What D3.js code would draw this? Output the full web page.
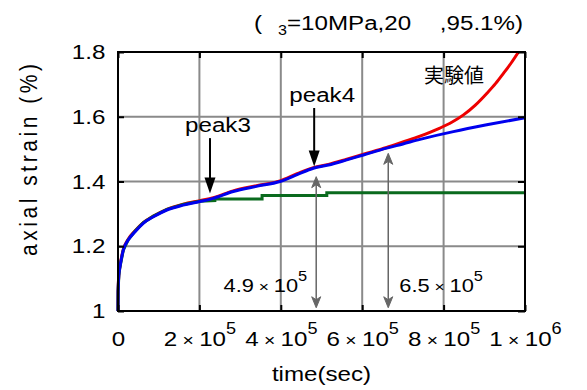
<!DOCTYPE html>
<html>
<head>
<meta charset="utf-8">
<script src="https://cdn.jsdelivr.net/npm/d3@7"></script>
<style>
  body { margin: 0; background: #fff; }
  svg { display: block; font-family: "Liberation Sans", Arial, sans-serif; }
</style>
</head>
<body>
<div id="chart"></div>
<script>
const width = 587;
const height = 390;
const margin = { top: 52, right: 62, bottom: 79, left: 118 };
const stretch = "scale(1.15,1)";

// experimental curve (time in sec, axial strain in %)
const expTime = [0, 300, 2000, 5000, 13000, 25000, 42000, 62000, 87000, 120000, 160000, 201000, 234000, 283000, 340000, 398000, 440000, 480000, 517000, 560000, 603000, 660000, 700000, 742000, 791000, 820000, 848000, 878000, 906000, 928000, 947000, 966000, 984000];
const expStrain = [1.0, 1.06, 1.11, 1.14, 1.19, 1.222, 1.248, 1.273, 1.293, 1.314, 1.33, 1.341, 1.35, 1.371, 1.387, 1.402, 1.424, 1.443, 1.453, 1.468, 1.484, 1.505, 1.522, 1.54, 1.565, 1.583, 1.605, 1.636, 1.672, 1.703, 1.734, 1.766, 1.8];

// blue simulated curve
const modelTime = [0, 300, 2000, 5000, 13000, 25000, 42000, 62000, 87000, 120000, 160000, 201000, 234000, 283000, 340000, 398000, 440000, 480000, 517000, 560000, 603000, 660000, 700000, 742000, 824000, 906000, 1000000];
const modelStrain = [1.0, 1.06, 1.11, 1.137, 1.188, 1.219, 1.245, 1.271, 1.291, 1.312, 1.327, 1.338, 1.348, 1.369, 1.385, 1.4, 1.421, 1.441, 1.451, 1.466, 1.482, 1.503, 1.516, 1.53, 1.554, 1.575, 1.597];

// green curve (stepping off after peak3)
const stopTime = [0, 300, 2000, 5000, 13000, 25000, 42000, 62000, 87000, 120000, 160000, 201000, 238000, 238000, 354000, 354000, 513000, 513000, 1000000];
const stopStrain = [1.0, 1.06, 1.11, 1.137, 1.188, 1.22, 1.247, 1.273, 1.293, 1.314, 1.329, 1.339, 1.341, 1.346, 1.346, 1.357, 1.357, 1.365, 1.365];

const xTicks = [0, 2e5, 4e5, 6e5, 8e5, 1e6];
const yTicks = [1, 1.2, 1.4, 1.6, 1.8];

const peakNames = ["peak3", "peak4"];
const peakTime = [2.26e5, 4.82e5];
const peakFrom = [1.534, 1.627];
const peakTo = [1.363, 1.446];

const spanTime = [4.87e5, 6.64e5];
const spanTop = [1.415, 1.487];
const spanBottom = 1.01;
const spanMantissa = ["4.9", "6.5"];
const spanExp = ["5", "5"];

const x = d3.scaleLinear().domain([0, 1e6]).range([margin.left, width - margin.right]);
const y = d3.scaleLinear().domain([1, 1.8]).range([height - margin.bottom, margin.top]);

const svg = d3.select("#chart").append("svg")
  .attr("width", width)
  .attr("height", height);

svg.append("defs").append("clipPath").attr("id", "plot")
  .append("rect")
  .attr("x", x(0) - 3).attr("y", y(1.8))
  .attr("width", x(1e6) - x(0) + 3).attr("height", y(1) - y(1.8));

// grid
const grid = svg.append("g").attr("stroke", "#8a8a8a").attr("stroke-width", 2);
grid.selectAll("line.v").data(xTicks.slice(1, -1)).join("line")
  .attr("class", "v")
  .attr("x1", d => x(d)).attr("x2", d => x(d))
  .attr("y1", y(1.8)).attr("y2", y(1));
grid.selectAll("line.h").data(yTicks.slice(1, -1)).join("line")
  .attr("class", "h")
  .attr("y1", d => y(d)).attr("y2", d => y(d))
  .attr("x1", x(0)).attr("x2", x(1e6));

// curves
const smooth = d3.line().x(d => x(d[0])).y(d => y(d[1])).curve(d3.curveMonotoneX);
const steps = d3.line().x(d => x(d[0])).y(d => y(d[1]));
const series = [
  { t: expTime, v: expStrain, color: "#ee0000", gen: smooth },
  { t: stopTime, v: stopStrain, color: "#0a6a1e", gen: steps },
  { t: modelTime, v: modelStrain, color: "#0000ee", gen: smooth }
];
svg.append("g").attr("clip-path", "url(#plot)")
  .selectAll("path").data(series).join("path")
  .attr("d", s => s.gen(d3.zip(s.t, s.v)))
  .attr("fill", "none")
  .attr("stroke", s => s.color)
  .attr("stroke-width", 3);

// axes
const fontSize = 21;
const xAxis = svg.append("g")
  .attr("transform", `translate(0,${y(1)})`)
  .call(d3.axisBottom(x).tickValues(xTicks).tickSize(-6).tickPadding(20));
xAxis.selectAll(".tick text").text(null).each(function (d) {
  const t = d3.select(this);
  if (d === 0) { t.text("0"); return; }
  const e = Math.floor(Math.log10(d));
  const m = Math.round(d / 10 ** e);
  t.append("tspan").text(m);
  t.append("tspan").attr("font-size", "0.8em").text(" \u00d7 ");
  t.append("tspan").text("10");
  t.append("tspan").attr("font-size", "0.75em").attr("dy", "-0.75em").text(e);
});

svg.append("g")
  .attr("transform", `translate(${x(0)},0)`)
  .call(d3.axisLeft(y).tickValues(yTicks).tickSize(-6).tickPadding(11)
    .tickFormat(d => String(+d.toFixed(1))));

svg.append("g").attr("transform", `translate(${x(1e6)},0)`)
  .call(d3.axisRight(y).tickValues(yTicks).tickSize(-7).tickFormat(""));
svg.append("g").attr("transform", `translate(0,${y(1.8)})`)
  .call(d3.axisTop(x).tickValues(xTicks).tickSize(-6).tickFormat(""));

svg.selectAll(".domain").remove();
svg.selectAll(".tick line").attr("stroke", "#000").attr("stroke-width", 2);
svg.selectAll(".tick text")
  .attr("font-size", fontSize)
  .attr("fill", "#000")
  .attr("font-family", "Liberation Sans, Arial, sans-serif")
  .attr("transform", stretch);

// frame
svg.append("rect")
  .attr("x", x(0)).attr("y", y(1.8))
  .attr("width", x(1e6) - x(0)).attr("height", y(1) - y(1.8))
  .attr("fill", "none").attr("stroke", "#000").attr("stroke-width", 2);

// helper for stretched labels
const label = (px, py, anchor, size) => svg.append("text")
  .attr("transform", `translate(${px},${py}) ${stretch}`)
  .attr("text-anchor", anchor)
  .attr("font-size", size)
  .attr("fill", "#000");

// axis titles
label((x(0) + x(1e6)) / 2, 381, "middle", fontSize).text("time(sec)");
svg.append("text")
  .attr("transform", `translate(37,160) ${stretch} rotate(-90)`)
  .attr("text-anchor", "middle")
  .attr("font-size", fontSize)
  .attr("textLength", 192)
  .attr("lengthAdjust", "spacing")
  .text("axial strain (%)");

// title (symbol glyphs left blank as in the original)
const title = label(523, 30, "end", fontSize);
title.append("tspan").text("(");
title.append("tspan").attr("dx", 14).attr("dy", 5).attr("font-size", 14).text("3");
title.append("tspan").attr("dy", -5).text("=10MPa,20");
title.append("tspan").attr("dx", 25).text(",95.1%)");

// curve label
svg.append("text")
  .attr("x", 424).attr("y", 83)
  .attr("font-size", 20)
  .attr("font-family", "Noto Sans CJK JP")
  .text("実験値");

// span arrows (gray, double headed)
const barb = (px, py, dir) =>
  `M${px},${py} L${px - 4.5},${py + dir * 11} L${px},${py + dir * 8} L${px + 4.5},${py + dir * 11} Z`;
spanTime.forEach((t, i) => {
  const px = x(t);
  const g = svg.append("g").attr("stroke", "#666").attr("fill", "#666");
  g.append("line")
    .attr("x1", px).attr("x2", px)
    .attr("y1", y(spanTop[i]) + 4).attr("y2", y(spanBottom) - 4)
    .attr("stroke-width", 1.5);
  g.append("path").attr("d", barb(px, y(spanTop[i]), 1)).attr("stroke-width", 1);
  g.append("path").attr("d", barb(px, y(spanBottom), -1)).attr("stroke-width", 1);

  const lab = label(i === 0 ? px - 9 : px + 11, y(1.06), i === 0 ? "end" : "start", 19);
  lab.append("tspan").text(spanMantissa[i]);
  lab.append("tspan").attr("font-size", "0.8em").text(" \u00d7 ");
  lab.append("tspan").text("10");
  lab.append("tspan").attr("font-size", "0.75em").attr("dy", "-0.75em").text(spanExp[i]);
});

// peak arrows (black)
peakNames.forEach((name, i) => {
  const px = x(peakTime[i]);
  const top = y(peakFrom[i]);
  const tip = y(peakTo[i]);
  svg.append("line")
    .attr("x1", px).attr("x2", px)
    .attr("y1", top).attr("y2", tip - 12)
    .attr("stroke", "#000").attr("stroke-width", 2);
  svg.append("path")
    .attr("d", `M${px},${tip} L${px - 5.5},${tip - 16} L${px + 5.5},${tip - 16} Z`)
    .attr("fill", "#000");
  label(px + 8, top - 6, "middle", fontSize).text(name);
});
</script>
</body>
</html>
